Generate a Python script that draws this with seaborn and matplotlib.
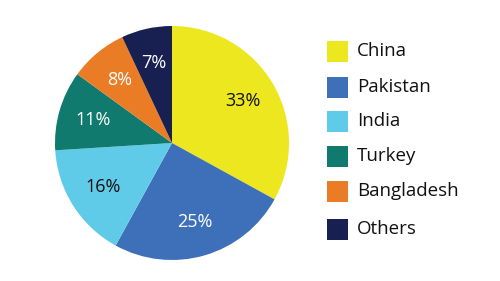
import matplotlib
matplotlib.use("Agg")
import matplotlib.pyplot as plt
import seaborn as sns
from matplotlib.patches import Rectangle

categories = ["China", "Pakistan", "India", "Turkey", "Bangladesh", "Others"]
shares = [33, 25, 16, 11, 8, 7]
colors = ["#EDE71F", "#3E70B9", "#60CBE9", "#0F7A6D", "#EB7C26", "#172050"]
label_colors = ["#111111", "white", "#111111", "white", "white", "white"]

sns.set_theme(style="white")
plt.rcParams["font.family"] = ["Open Sans", "DejaVu Sans"]

fig = plt.figure(figsize=(5, 2.81), dpi=100)
ax = fig.add_axes([55 / 500, (281 - 260) / 281, 234 / 500, 234 / 281])

wedges, texts, autotexts = ax.pie(
    shares, colors=colors, startangle=90, counterclock=False,
    autopct="%d%%", pctdistance=0.7, radius=1.0, frame=False,
    wedgeprops=dict(linewidth=0),
    textprops=dict(fontsize=13),
)
for t, c in zip(autotexts, label_colors):
    t.set_color(c)
ax.set_xlim(-1, 1)
ax.set_ylim(-1, 1)
ax.set_aspect("equal")
ax.axis("off")

row_y = [51, 87, 121, 156, 191, 229]
for name, col, y in zip(categories, colors, row_y):
    fig.add_artist(Rectangle((327 / 500, (281 - y - 10.5) / 281), 21 / 500, 21 / 281,
                             transform=fig.transFigure, facecolor=col, edgecolor="none"))
    fig.text(357 / 500, (281 - y) / 281, name, fontsize=13.5, va="center", ha="left", color="#111111")

fig.savefig("out.png", dpi=100)
